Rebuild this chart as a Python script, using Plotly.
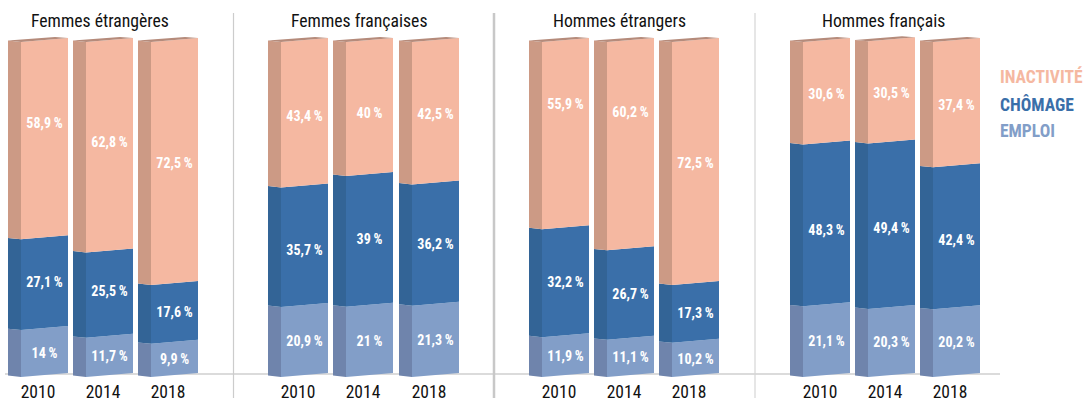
import plotly.graph_objects as go

groups = ["Femmes étrangères", "Femmes françaises", "Hommes étrangers", "Hommes français"]
years = ["2010", "2014", "2018"]
emploi = [14, 11.7, 9.9, 20.9, 21, 21.3, 11.9, 11.1, 10.2, 21.1, 20.3, 20.2]
chomage = [27.1, 25.5, 17.6, 35.7, 39, 36.2, 32.2, 26.7, 17.3, 48.3, 49.4, 42.4]
# drawn height of the 2014 "Hommes étrangers" block fills the column to 100 in the original
inactivite = [58.9, 62.8, 72.5, 43.4, 40, 42.5, 55.9, 62.2, 72.5, 30.6, 30.5, 37.4]
label_emploi = ["14", "11,7", "9,9", "20,9", "21", "21,3", "11,9", "11,1", "10,2", "21,1", "20,3", "20,2"]
label_chomage = ["27,1", "25,5", "17,6", "35,7", "39", "36,2", "32,2", "26,7", "17,3", "48,3", "49,4", "42,4"]
label_inactivite = ["58,9", "62,8", "72,5", "43,4", "40", "42,5", "55,9", "60,2", "72,5", "30,6", "30,5", "37,4"]

# layout (pixels on the x axis, percent on the y axis)
W, H, MB = 1084, 401, 22
PX = 3.35            # px per percent
Y0_PX = 377          # pixel row of 0 %
bar_left = [8, 73, 138, 268, 333, 399, 529, 594, 659, 790, 855, 920]
SIDE, FRONT = 13, 47
SKEW = 4 / PX        # rise of the front face, left to right
SIDE_DROP = 1.4 / PX # rise of the side face towards its outer edge
FONT = "Roboto Condensed"
# vertical shift of labels, in px (hand placement in the original)
LABEL_NUDGE = 2.5
shift_inact = [-17, -4.5, 1, 2, 4.6, 1.4, -31, -33, 1, 2, 1.5, 1]
shift_chom = [-2, -3.5, -1, 4, -1, 0, 0, 0, 0, 6, 3, 3]

series = [
    ("EMPLOI", emploi, label_emploi, "#829ec8", "#6f84ac", [0] * 12),
    ("CHÔMAGE", chomage, label_chomage, "#3a6fa9", "#336496", shift_chom),
    ("INACTIVITÉ", inactivite, label_inactivite, "#f5b8a1", "#cc9a85", shift_inact),
]

fig = go.Figure()
base = [0.0] * 12
tx, ty, tt = [], [], []
for name, vals, labels, front, side, shifts in series:
    for i, v in enumerate(vals):
        l = bar_left[i]
        a, b = base[i], base[i] + v
        # side face
        fig.add_trace(go.Scatter(
            x=[l, l + SIDE, l + SIDE, l, l],
            y=[a + SIDE_DROP, a, b, b + SIDE_DROP, a + SIDE_DROP],
            mode="lines", fill="toself", fillcolor=side, line=dict(width=0),
            hoverinfo="skip", showlegend=False))
        # front face
        r = l + SIDE + FRONT
        fig.add_trace(go.Scatter(
            x=[l + SIDE, r, r, l + SIDE, l + SIDE],
            y=[a, a + SKEW, b + SKEW, b, a],
            mode="lines", fill="toself", fillcolor=front, line=dict(width=0),
            name=name, showlegend=False, hoverinfo="skip"))
        if name == "INACTIVITÉ":
            # top face
            fig.add_trace(go.Scatter(
                x=[l, l + SIDE, r, r - SIDE, l],
                y=[b + SIDE_DROP, b, b + SKEW, b + SKEW + 1 / PX, b + SIDE_DROP],
                mode="lines", fill="toself", fillcolor="#b58b7b", line=dict(width=0),
                hoverinfo="skip", showlegend=False))
        tx.append(l + SIDE + FRONT / 2)
        ty.append((a + b) / 2 + SKEW / 2 - (shifts[i] + LABEL_NUDGE) / PX)
        tt.append(labels[i] + "\u2009%")
        base[i] = b

fig.add_trace(go.Scatter(
    x=tx, y=ty, text=tt, mode="text", hoverinfo="skip", showlegend=False,
    textfont=dict(family=FONT, size=14, color="white", weight="bold")))

def yp(px):
    return (H - MB - px) / (H - MB)

shapes = [dict(type="line", xref="x", yref="paper", x0=5, x1=1000, y0=yp(374), y1=yp(374),
               line=dict(color="#cfcfcf", width=1.3), layer="below")]
for x, w, c in [(233.5, 1.2, "#cccccc"), (494, 2.5, "#c8c8c8"), (755, 1.2, "#d6d6d6")]:
    shapes.append(dict(type="line", xref="x", yref="paper", x0=x, x1=x, y0=yp(13), y1=yp(398),
                       line=dict(color=c, width=w), layer="below"))

annotations = []
for g, cx in zip(groups, [100, 359, 619, 883]):
    annotations.append(dict(text=g, x=cx, y=yp(21), xref="x", yref="paper", showarrow=False,
                            xanchor="center", yanchor="middle",
                            font=dict(family=FONT, size=17.7, color="#111111")))
for name, col, py in [("INACTIVITÉ", "#f5b8a1", 76), ("CHÔMAGE", "#3a6fa9", 104), ("EMPLOI", "#829ec8", 131)]:
    annotations.append(dict(text=name, x=998, y=yp(py), xref="x", yref="paper", showarrow=False,
                            xanchor="left", yanchor="middle",
                            font=dict(family=FONT, size=17.5, color=col, weight="bold")))

fig.update_layout(
    width=W, height=H, margin=dict(l=0, r=0, t=0, b=MB, pad=0, autoexpand=False),
    plot_bgcolor="white", paper_bgcolor="white", showlegend=False,
    shapes=shapes, annotations=annotations,
    xaxis=dict(range=[0, W], showgrid=False, zeroline=False, showline=False, ticks="",
               tickmode="array",
               tickvals=[l + (SIDE + FRONT) / 2 for l in bar_left],
               ticktext=years * 4,
               tickfont=dict(family=FONT, size=17.5, color="#111111")),
    yaxis=dict(range=[-(H - MB - Y0_PX) / PX, Y0_PX / PX], visible=False, showgrid=False, zeroline=False),
)
fig.write_html("out.html", config={"displayModeBar": False},
               post_script="document.body.style.margin='0';")
